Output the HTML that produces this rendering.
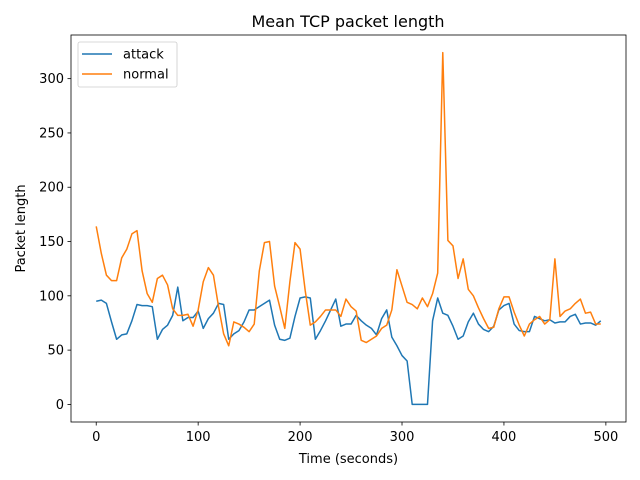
<!DOCTYPE html>
<html><head><meta charset="utf-8"><style>
body{margin:0;background:#fff;}
svg{display:block;font-family:"DejaVu Sans","Liberation Sans",sans-serif;}
</style></head><body>
<svg id="chart" width="640" height="480"></svg>
<script>
const times = [];
for (let t = 0; t <= 495; t += 5) times.push(t);
const attackValues = [95,96,93,76,60,64,65,77,92,91,91,90,60,69,73,82,108,77,80,80,86,70,79,84,93,92,60,65,68,76,87,87,90,93,96,73,60,59,61,81,98,99,98,60,68,77,87,97,72,74,
74,82,77,73,70,64,79,87,62,54,45,40,0,0,0,0,77,98,84,82,72,60,63,76,84,74,69,67,72,87,91,93,74,68,67,67,81,79,77,78,75,76,76,81,83,74,75,75,73,77];
const normalValues = [164,139,119,114,114,135,143,157,160,123,102,94,116,119,110,88,82,82,83,72,87,113,126,119,90,65,54,76,74,71,67,74,123,149,150,109,90,70,113,149,143,105,73,76,81,87,87,87,81,97,
90,86,59,57,60,63,70,73,87,124,109,94,92,88,98,90,102,121,324,151,146,116,134,106,100,89,79,70,71,88,99,99,85,73,63,74,78,81,74,78,134,81,86,88,93,97,84,85,74,74];
const xTicks = [0,100,200,300,400,500];
const yTicks = [0,50,100,150,200,250,300];

const NS = "http://www.w3.org/2000/svg";
const svg = document.getElementById("chart");
const L = 71, R = 626, T = 35, B = 422;
const xMin = -24.75, xMax = 519.75, yMin = -16.2, yMax = 340.2;
const xs = v => L + (v - xMin) / (xMax - xMin) * (R - L);
const ys = v => B - (v - yMin) / (yMax - yMin) * (B - T);
function mk(tag, attrs, parent) {
  const e = document.createElementNS(NS, tag);
  for (const k in attrs) e.setAttribute(k, attrs[k]);
  (parent || svg).appendChild(e);
  return e;
}
function txt(s, attrs) { const e = mk("text", attrs); e.textContent = s; return e; }

let e;
e = txt("Mean TCP packet length", {x: 348, y: 27, "font-size": 16, "text-anchor": "middle", fill: "#000"});



xTicks.forEach(v => {
  const x = xs(v);
  mk("line", {x1: x, x2: x, y1: B, y2: B + 3.5, stroke: "#000", "stroke-width": 0.8});
  e = txt(String(v), {x: x, y: B + 19, "font-size": 13, "text-anchor": "middle", fill: "#000"});
  
  
});
yTicks.forEach(v => {
  const y = ys(v);
  mk("line", {x1: L - 3.5, x2: L, y1: y, y2: y, stroke: "#000", "stroke-width": 0.8});
  e = txt(String(v), {x: L - 7, y: y + 4.5, "font-size": 13, "text-anchor": "end", fill: "#000"});
  
  
});
e = txt("Time (seconds)", {x: (L + R) / 2, y: 463, "font-size": 13, "text-anchor": "middle", fill: "#000"});


e = txt("Packet length", {x: 0, y: 0, "font-size": 13, "text-anchor": "middle", fill: "#000", transform: `translate(25,${(T + B) / 2}) rotate(-90)`});



function series(vals, color, name) {
  const pts = vals.map((v, i) => xs(times[i]).toFixed(2) + "," + ys(v).toFixed(2)).join(" ");
  const p = mk("polyline", {points: pts, fill: "none", stroke: color, "stroke-width": 1.5, "stroke-linejoin": "round"});
  
  
}
series(attackValues, "#1f77b4", "attack-line");
series(normalValues, "#ff7f0e", "normal-line");

e = mk("rect", {x: L, y: T, width: R - L, height: B - T, fill: "none", stroke: "#000", "stroke-width": 0.8});



const lg = mk("g", {});


mk("rect", {x: 78, y: 42, width: 99, height: 45, rx: 2, fill: "#fff", "fill-opacity": 0.8, stroke: "#ccc", "stroke-width": 0.8}, lg);
[["attack", "#1f77b4", 54], ["normal", "#ff7f0e", 74]].forEach(([n, c, y]) => {
  const g = mk("g", {}, lg);
  
  
  mk("line", {x1: 82, x2: 112, y1: y, y2: y, stroke: c, "stroke-width": 1.5}, g);
  const t = mk("text", {x: 123, y: y + 4.5, "font-size": 13, fill: "#000"}, g);
  t.textContent = n;
});
</script>
</body></html>
